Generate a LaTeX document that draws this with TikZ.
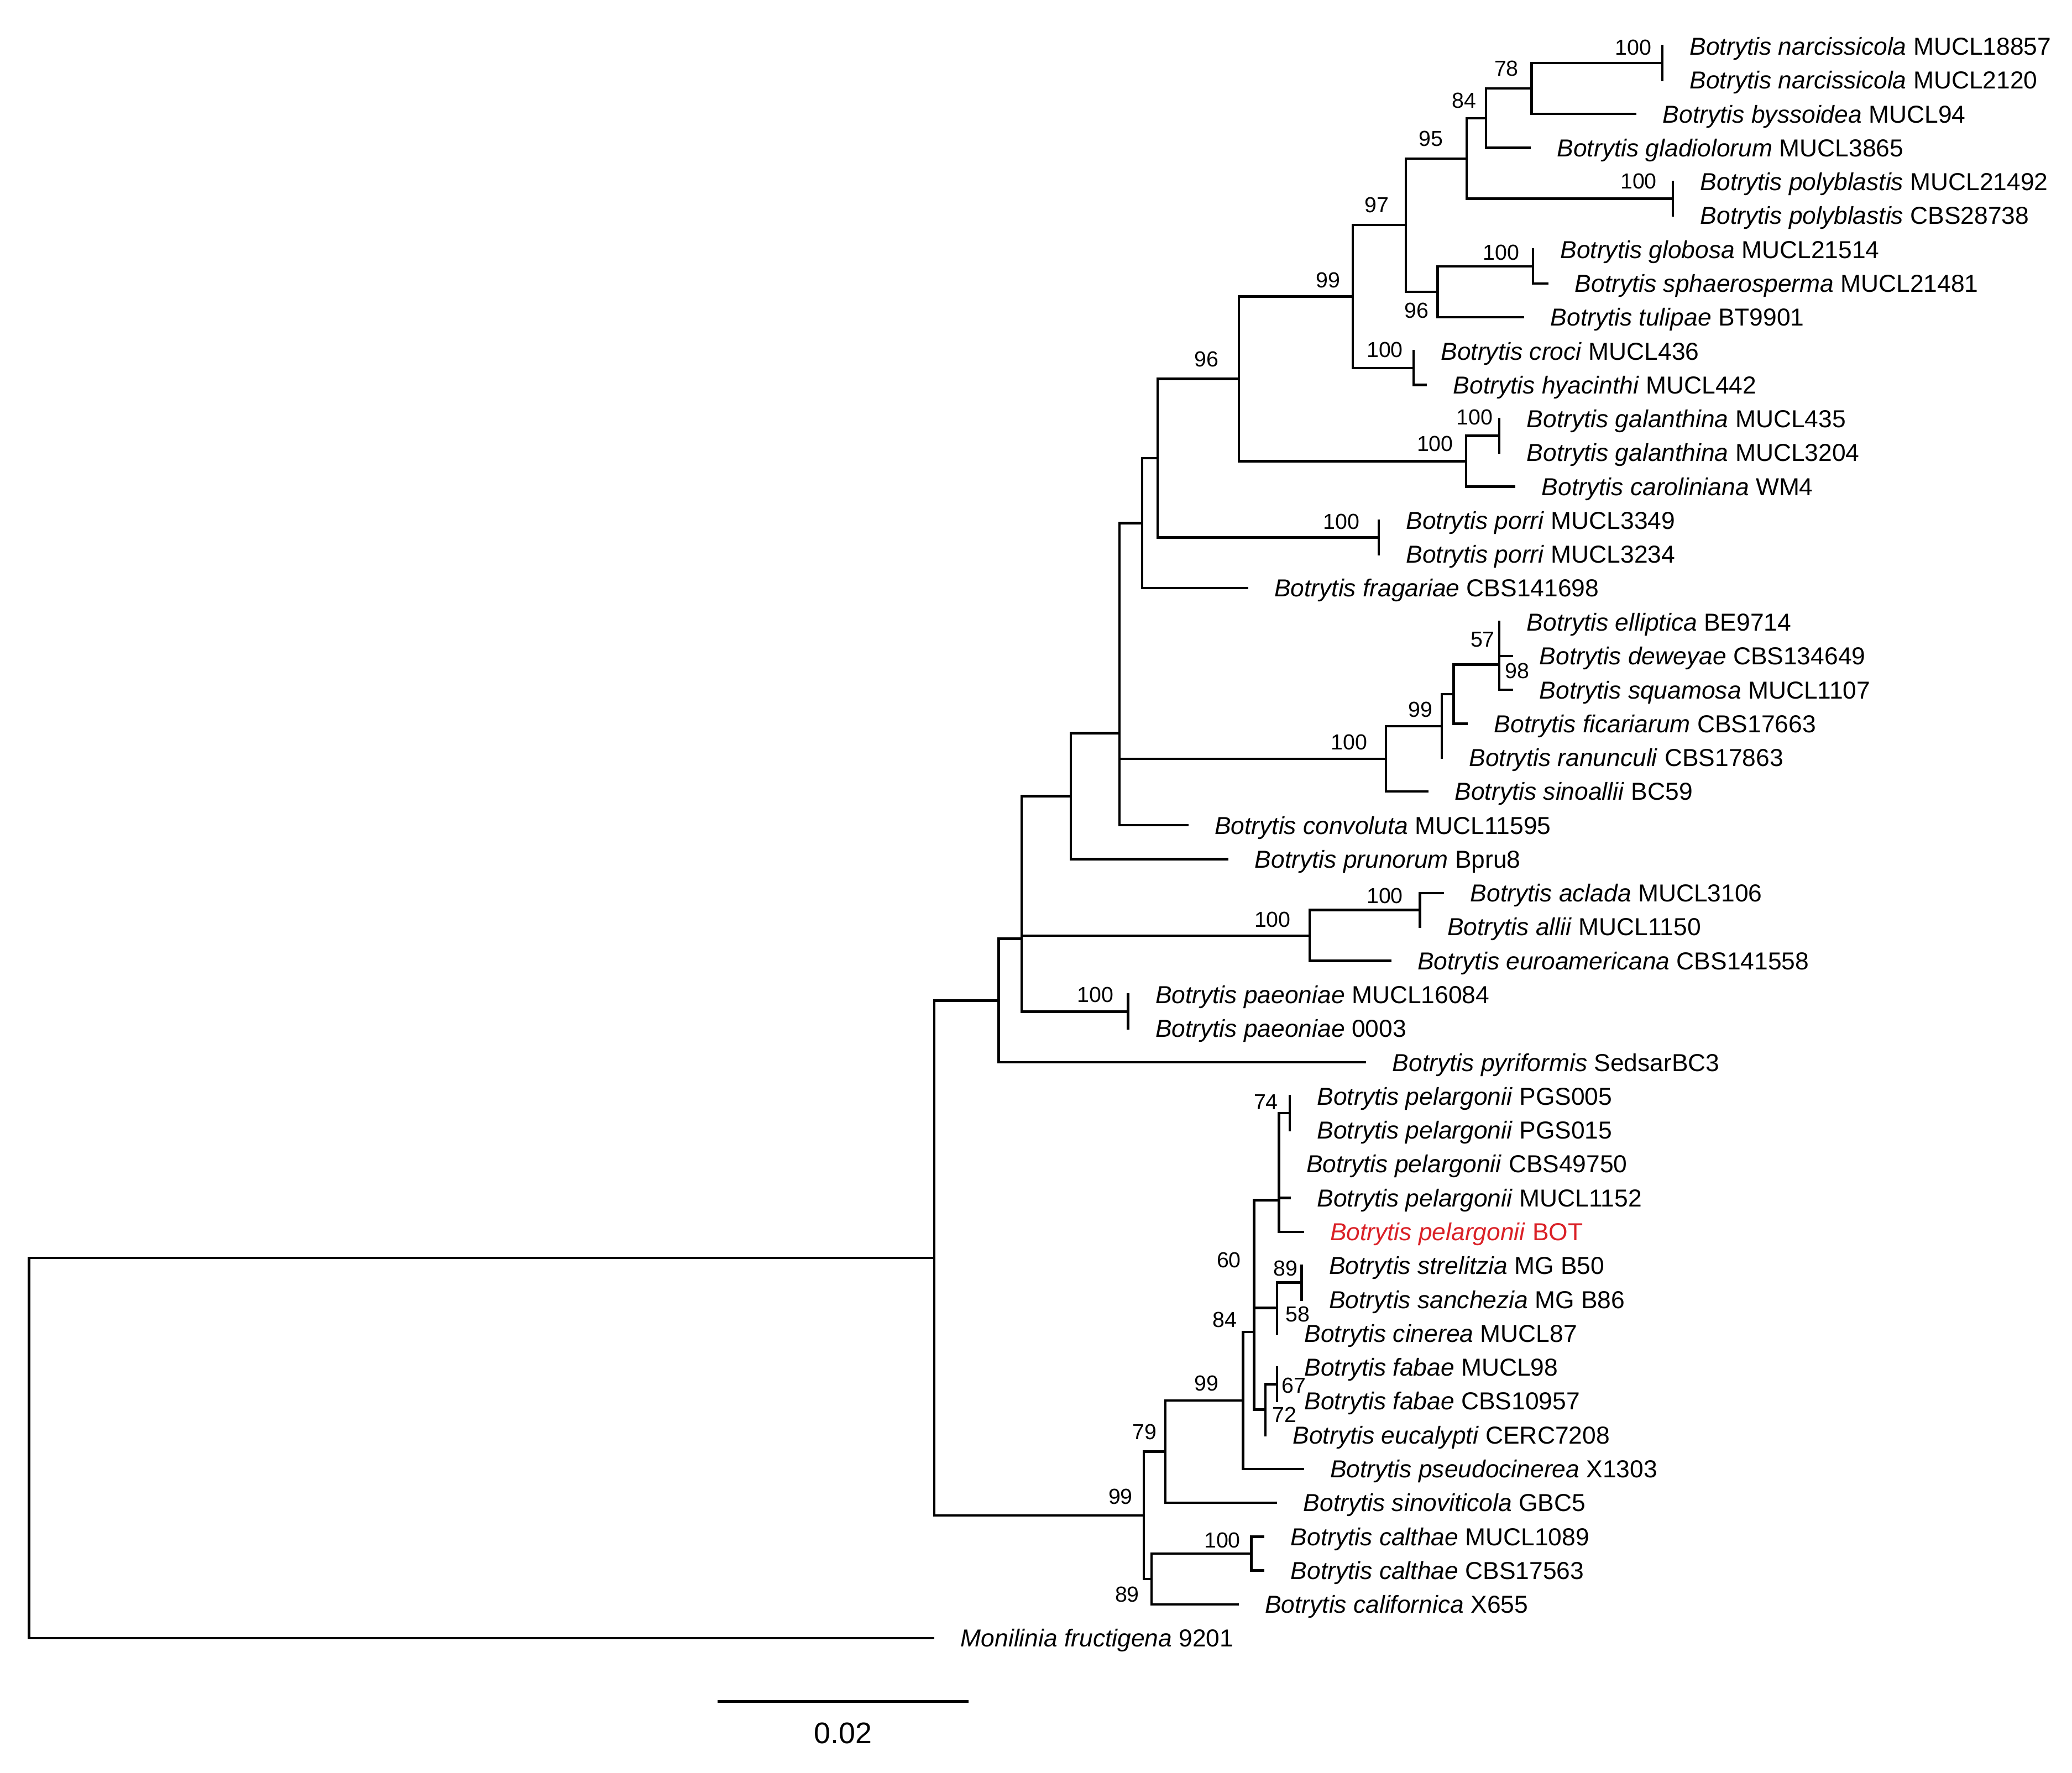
\documentclass[tikz,border=0pt]{standalone}
\usepackage{fontspec}
\setmainfont{Liberation Sans}
\usetikzlibrary{calc}
\definecolor{botred}{RGB}{218,32,38}
\newcommand{\leaflabel}[4][]{\node[lab,#1] (L#2) at ($(t#2)+(20.5,6.6)$) {\textit{#3} #4};}
\begin{document}
\begin{tikzpicture}[x=0.025cm,y=-0.025cm,
  br/.style={line width=1.3pt,line cap=rect},
  lab/.style={anchor=base west,inner sep=0pt,font=\fontsize{13.2}{15}\selectfont},
  bs/.style={inner sep=0pt,font=\fontsize{11.7}{13}\selectfont}]
\fill[white] (0,0) rectangle (1568,1342);
\path[use as bounding box] (0,0) rectangle (1568,1342);
% leaf tips
\coordinate (t1) at (1258,35.0);
\coordinate (t2) at (1258,60.6);
\coordinate (t3) at (1237.6,86.3);
\coordinate (t4) at (1157.6,111.9);
\coordinate (t5) at (1266,137.6);
\coordinate (t6) at (1266,163.2);
\coordinate (t7) at (1160,188.8);
\coordinate (t8) at (1171,214.5);
\coordinate (t9) at (1152.6,240.1);
\coordinate (t10) at (1069.7,265.8);
\coordinate (t11) at (1079,291.4);
\coordinate (t12) at (1134.6,317.0);
\coordinate (t13) at (1134.6,342.7);
\coordinate (t14) at (1146,368.3);
\coordinate (t15) at (1043.3,394.0);
\coordinate (t16) at (1043.3,419.6);
\coordinate (t17) at (943.6,445.2);
\coordinate (t18) at (1134.6,470.9);
\coordinate (t19) at (1144.3,496.5);
\coordinate (t20) at (1144.3,522.2);
\coordinate (t21) at (1110,547.8);
\coordinate (t22) at (1091,573.4);
\coordinate (t23) at (1080.2,599.1);
\coordinate (t24) at (898.4,624.7);
\coordinate (t25) at (928.8,650.4);
\coordinate (t26) at (1092,676.0);
\coordinate (t27) at (1074.5,701.6);
\coordinate (t28) at (1052,727.3);
\coordinate (t29) at (853.6,752.9);
\coordinate (t30) at (853.6,778.6);
\coordinate (t31) at (1033,804.2);
\coordinate (t32) at (976,829.8);
\coordinate (t33) at (976,855.5);
\coordinate (t34) at (967.8,881.1);
\coordinate (t35) at (976,906.8);
\coordinate (t36) at (985.8,932.4);
\coordinate (t37) at (985,958.0);
\coordinate (t38) at (985,983.7);
\coordinate (t39) at (966.4,1009.3);
\coordinate (t40) at (966.4,1035.0);
\coordinate (t41) at (966.4,1060.6);
\coordinate (t42) at (957.6,1086.2);
\coordinate (t43) at (985.8,1111.9);
\coordinate (t44) at (965.6,1137.5);
\coordinate (t45) at (956,1163.2);
\coordinate (t46) at (956,1188.8);
\coordinate (t47) at (936.5,1214.4);
\coordinate (t48) at (706.3,1240.0);
% internal nodes
\coordinate (nNarc) at (1258,47.8);
\coordinate (n78) at (1159,67.05);
\coordinate (n84) at (1124.6,89.5);
\coordinate (nPoly) at (1266,150.4);
\coordinate (n95) at (1110,119.95);
\coordinate (nGlob) at (1160,201.65);
\coordinate (n96a) at (1088,220.9);
\coordinate (n97) at (1064,170.4);
\coordinate (nCroci) at (1069.7,278.6);
\coordinate (n99a) at (1023.8,224.5);
\coordinate (nGal) at (1134.6,329.85);
\coordinate (nGal2) at (1109.4,349.1);
\coordinate (n96b) at (937.6,286.8);
\coordinate (nPorri) at (1043.3,406.8);
\coordinate (n876) at (876,346.8);
\coordinate (n864) at (864.4,396);
\coordinate (nE57) at (1134.6,483.7);
\coordinate (nE98) at (1134.6,503);
\coordinate (nE1100) at (1100,525.4);
\coordinate (nE99) at (1091,549.6);
\coordinate (nE100) at (1048.9,574.3);
\coordinate (n847a) at (847.2,485.15);
\coordinate (n847) at (847.2,554.9);
\coordinate (n810) at (810.4,602.7);
\coordinate (nAcl2) at (1074.5,688.8);
\coordinate (nAcl) at (991.2,708.2);
\coordinate (n773a) at (773,655.5);
\coordinate (nPaeo) at (853.6,765.8);
\coordinate (n773) at (773,710.6);
\coordinate (nUp) at (755.8,757.4);
\coordinate (nPGS) at (976,842.65);
\coordinate (nPelA) at (967.8,861.9);
\coordinate (nPelB) at (967.8,884.3);
\coordinate (nPel) at (967.8,908.4);
\coordinate (nStr2) at (985,970.85);
\coordinate (nStr) at (966.4,990.1);
\coordinate (n60) at (949,949.25);
\coordinate (nFab2) at (966.4,1047.8);
\coordinate (n72) at (957.6,1067);
\coordinate (n84b) at (949,1008.1);
\coordinate (n99c) at (940.6,1060);
\coordinate (n79) at (882,1098.75);
\coordinate (nCal) at (947,1176);
\coordinate (n89) at (871.4,1195.2);
\coordinate (n99b) at (865.6,1147);
\coordinate (nB) at (707,952.2);
\coordinate (root) at (22,1096.1);
% branches
\foreach \p/\c in {root/nB, root/t48, nB/nUp, nB/n99b, nUp/n773, nUp/t31,
  n773/n773a, n773/nPaeo, nPaeo/t29, nPaeo/t30, n773a/n810, n773a/nAcl,
  nAcl/nAcl2, nAcl/t28, nAcl2/t26, nAcl2/t27, n810/n847, n810/t25,
  n847/n847a, n847/t24, n847a/n864, n847a/nE100, nE100/nE99, nE100/t23,
  nE99/nE1100, nE99/t22, nE1100/nE98, nE1100/t21, nE98/nE57, nE98/t20,
  nE57/t18, nE57/t19, n864/n876, n864/t17, n876/n96b, n876/nPorri,
  nPorri/t15, nPorri/t16, n96b/n99a, n96b/nGal2, nGal2/nGal, nGal2/t14,
  nGal/t12, nGal/t13, n99a/n97, n99a/nCroci, nCroci/t10, nCroci/t11,
  n97/n95, n97/n96a, n96a/nGlob, n96a/t9, nGlob/t7, nGlob/t8, n95/n84,
  n95/nPoly, nPoly/t5, nPoly/t6, n84/n78, n84/t4, n78/nNarc, n78/t3,
  nNarc/t1, nNarc/t2,
  n99b/n79, n99b/n89, n89/nCal, n89/t47, nCal/t45, nCal/t46, n79/n99c,
  n79/t44, n99c/n84b, n99c/t43, n84b/n60, n84b/n72, n72/nFab2, n72/t42,
  nFab2/t40, nFab2/t41, n60/nPel, n60/nStr, nStr/nStr2, nStr/t39,
  nStr2/t37, nStr2/t38, nPel/nPelB, nPel/t36, nPelB/nPelA, nPelB/t35,
  nPelA/nPGS, nPelA/t34, nPGS/t32, nPGS/t33}
  {\draw[br] (\p) |- (\c);}
% leaf labels
\leaflabel{1}{Botrytis narcissicola}{MUCL18857}
\leaflabel{2}{Botrytis narcissicola}{MUCL2120}
\leaflabel{3}{Botrytis byssoidea}{MUCL94}
\leaflabel{4}{Botrytis gladiolorum}{MUCL3865}
\leaflabel{5}{Botrytis polyblastis}{MUCL21492}
\leaflabel{6}{Botrytis polyblastis}{CBS28738}
\leaflabel{7}{Botrytis globosa}{MUCL21514}
\leaflabel{8}{Botrytis sphaerosperma}{MUCL21481}
\leaflabel{9}{Botrytis tulipae}{BT9901}
\leaflabel{10}{Botrytis croci}{MUCL436}
\leaflabel{11}{Botrytis hyacinthi}{MUCL442}
\leaflabel{12}{Botrytis galanthina}{MUCL435}
\leaflabel{13}{Botrytis galanthina}{MUCL3204}
\leaflabel{14}{Botrytis caroliniana}{WM4}
\leaflabel{15}{Botrytis porri}{MUCL3349}
\leaflabel{16}{Botrytis porri}{MUCL3234}
\leaflabel{17}{Botrytis fragariae}{CBS141698}
\leaflabel{18}{Botrytis elliptica}{BE9714}
\leaflabel{19}{Botrytis deweyae}{CBS134649}
\leaflabel{20}{Botrytis squamosa}{MUCL1107}
\leaflabel{21}{Botrytis ficariarum}{CBS17663}
\leaflabel{22}{Botrytis ranunculi}{CBS17863}
\leaflabel{23}{Botrytis sinoallii}{BC59}
\leaflabel{24}{Botrytis convoluta}{MUCL11595}
\leaflabel{25}{Botrytis prunorum}{Bpru8}
\leaflabel{26}{Botrytis aclada}{MUCL3106}
\leaflabel{27}{Botrytis allii}{MUCL1150}
\leaflabel{28}{Botrytis euroamericana}{CBS141558}
\leaflabel{29}{Botrytis paeoniae}{MUCL16084}
\leaflabel{30}{Botrytis paeoniae}{0003}
\leaflabel{31}{Botrytis pyriformis}{SedsarBC3}
\leaflabel{32}{Botrytis pelargonii}{PGS005}
\leaflabel{33}{Botrytis pelargonii}{PGS015}
\leaflabel{34}{Botrytis pelargonii}{CBS49750}
\leaflabel{35}{Botrytis pelargonii}{MUCL1152}
\leaflabel[text=botred]{36}{Botrytis pelargonii}{BOT}
\leaflabel{37}{Botrytis strelitzia}{MG B50}
\leaflabel{38}{Botrytis sanchezia}{MG B86}
\leaflabel{39}{Botrytis cinerea}{MUCL87}
\leaflabel{40}{Botrytis fabae}{MUCL98}
\leaflabel{41}{Botrytis fabae}{CBS10957}
\leaflabel{42}{Botrytis eucalypti}{CERC7208}
\leaflabel{43}{Botrytis pseudocinerea}{X1303}
\leaflabel{44}{Botrytis sinoviticola}{GBC5}
\leaflabel{45}{Botrytis calthae}{MUCL1089}
\leaflabel{46}{Botrytis calthae}{CBS17563}
\leaflabel{47}{Botrytis californica}{X655}
\leaflabel{48}{Monilinia fructigena}{9201}
% bootstrap values
\node[bs] (b1) at (1236,36) {100};
\node[bs] (b2) at (1140,52) {78};
\node[bs] (b3) at (1108,76) {84};
\node[bs] (b4) at (1083,105) {95};
\node[bs] (b5) at (1240,137) {100};
\node[bs] (b6) at (1042,155) {97};
\node[bs] (b7) at (1136,191) {100};
\node[bs] (b8) at (1005,212) {99};
\node[bs] (b9) at (1072,235) {96};
\node[bs] (b10) at (913,272) {96};
\node[bs] (b11) at (1048,265) {100};
\node[bs] (b12) at (1116,316) {100};
\node[bs] (b13) at (1086,336) {100};
\node[bs] (b14) at (1015,395) {100};
\node[bs] (b15) at (1122,484) {57};
\node[bs] (b16) at (1148,508) {98};
\node[bs] (b17) at (1075,537) {99};
\node[bs] (b18) at (1021,562) {100};
\node[bs] (b19) at (1048,678) {100};
\node[bs] (b20) at (963,696) {100};
\node[bs] (b21) at (829,753) {100};
\node[bs] (b22) at (958,834) {74};
\node[bs] (b23) at (930,954) {60};
\node[bs] (b24) at (973,960) {89};
\node[bs] (b25) at (982,995) {58};
\node[bs] (b26) at (927,999) {84};
\node[bs] (b27) at (979,1049) {67};
\node[bs] (b28) at (972,1071) {72};
\node[bs] (b29) at (913,1047) {99};
\node[bs] (b30) at (866,1084) {79};
\node[bs] (b31) at (848,1133) {99};
\node[bs] (b32) at (925,1166) {100};
\node[bs] (b33) at (853,1207) {89};
% scale bar
\coordinate (s1) at (543,1288);
\coordinate (s2) at (733,1288);
\draw[line width=1.5pt] (s1) -- (s2);
\node[inner sep=0pt,font=\fontsize{16}{18}\selectfont] (scl) at (638,1312) {0.02};
\end{tikzpicture}
\end{document}
